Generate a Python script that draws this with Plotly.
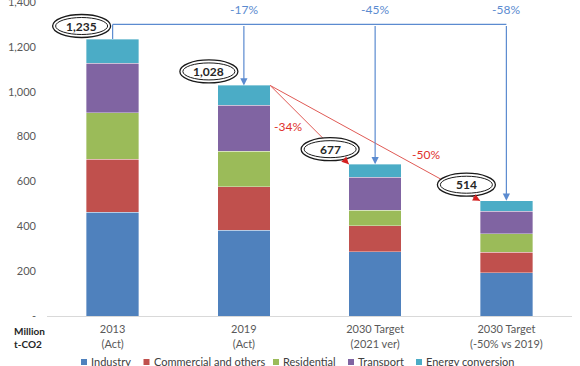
import plotly.graph_objects as go

# ---------------- data ----------------
categories = ["2013<br>(Act)", "2019<br>(Act)", "2030 Target<br>(2021 ver)", "2030 Target<br>(-50% vs 2019)"]
industry = [463, 383, 286, 192]
commercial = [236, 193, 116, 93]
residential = [208, 159, 69, 82]
transport = [221, 204, 147, 101]
energy_conv = [107, 89, 59, 46]
series_names = ["Industry", "Commercial and others", "Residential", "Transport", "Energy conversion"]
y_tick_vals = [0, 200, 400, 600, 800, 1000, 1200, 1400]
y_tick_text = ["-", "200", "400", "600", "800", "1,000", "1,200", "1,400"]

# ---------------- style ----------------
series = [industry, commercial, residential, transport, energy_conv]
colors = ["#4F81BD", "#C0504D", "#9BBB59", "#8064A2", "#4BACC6"]
FONT = "Lato, Open Sans, sans-serif"
W, H = 580, 366
ML, MR, MT, MB = 47, 8, 2, 50
PW, PH = W - ML - MR, H - MT - MB
BAR_W = 0.4
Y_MAX = 1400
BLUE = "#5B8BD0"
RED_TXT = "#E0312B"
RED_LINE = "#E05A55"
BRACKET_Y = 1300
PCT_Y = 1365
# pixel offsets of the total bubbles relative to the bar top centre
bubble_offsets = [(-31, 13), (-35, 14), (-45, 15), (-40, 16)]
# manual legend: icon left edges (px) and vertical centre (px)
legend_icon_px = [81, 143.5, 273, 348, 416]
LEGEND_Y_PX = 361
ICON = 6

px_per_x = PW / 4.0
px_per_y = PH / Y_MAX


def paper_x(px):
    return (px - ML) / PW


def paper_y(py):
    return (H - MB - py) / PH


x = list(range(len(categories)))
totals = [sum(v[i] for v in series) for i in x]

fig = go.Figure()
for name, vals, col in zip(series_names, series, colors):
    fig.add_trace(go.Bar(x=x, y=vals, name=name, width=BAR_W, showlegend=False,
                         marker=dict(color=col, line=dict(color="rgba(255,255,255,0.6)", width=0.6))))

shapes = []
annotations = []

# blue bracket: from the first bar's top to every other bar
shapes.append(dict(type="line", xref="x", yref="y", x0=x[0], x1=x[0], y0=totals[0], y1=BRACKET_Y,
                   line=dict(color=BLUE, width=1.2), layer="above"))
shapes.append(dict(type="line", xref="x", yref="y", x0=x[0], x1=x[-1], y0=BRACKET_Y, y1=BRACKET_Y,
                   line=dict(color=BLUE, width=1.2), layer="above"))
for i in x[1:]:
    annotations.append(dict(x=i, y=totals[i], ax=i, ay=BRACKET_Y, axref="x", ayref="y", xref="x", yref="y",
                            text="", showarrow=True, arrowhead=2, arrowsize=1.2, arrowwidth=1.2,
                            arrowcolor=BLUE, standoff=0))
    pct = round((totals[i] / totals[0] - 1) * 100)
    annotations.append(dict(x=i, y=PCT_Y, xref="x", yref="y", text=f"{pct}%", showarrow=False,
                            font=dict(family=FONT, size=12, color=BLUE)))

# red lines from the 2019 bar to the two targets
red_label_pos = {2: (0.23, 0, -23), 3: (0.74, 0, 16)}
for i in [2, 3]:
    xs, ys = x[1] + BAR_W / 2, totals[1]
    xe, ye = x[i] - BAR_W / 2, totals[i]
    shapes.append(dict(type="line", xref="x", yref="y", x0=xs, y0=ys, x1=xe, y1=ye,
                       line=dict(color=RED_LINE, width=1), layer="above"))
    dxp = (xe - xs) * px_per_x
    dyp = (ys - ye) * px_per_y
    n = (dxp ** 2 + dyp ** 2) ** 0.5
    annotations.append(dict(x=xe, y=ye, xref="x", yref="y", ax=-dxp / n * 9, ay=-dyp / n * 9,
                            text="", showarrow=True, arrowhead=2, arrowsize=1.3, arrowwidth=1.1,
                            arrowcolor="#D42020", standoff=0))
    t, sx, sy = red_label_pos[i]
    pct = round((totals[i] / totals[1] - 1) * 100)
    annotations.append(dict(x=xs + t * (xe - xs), y=ys + t * (ye - ys), xref="x", yref="y",
                            text=f"{pct}%", showarrow=False, xshift=sx, yshift=sy,
                            font=dict(family=FONT, size=12, color=RED_TXT)))

# total bubbles (double ellipse)
for i in x:
    dx, dy = bubble_offsets[i]
    shapes.append(dict(type="circle", xref="x", yref="y", xsizemode="pixel", ysizemode="pixel",
                       xanchor=i, yanchor=totals[i], x0=dx - 29, x1=dx + 29, y0=dy - 11.5, y1=dy + 11.5,
                       fillcolor="white", line=dict(color="#1a1a1a", width=1.3), layer="above"))
    shapes.append(dict(type="circle", xref="x", yref="y", xsizemode="pixel", ysizemode="pixel",
                       xanchor=i, yanchor=totals[i], x0=dx - 26, x1=dx + 26, y0=dy - 8.5, y1=dy + 8.5,
                       fillcolor="rgba(0,0,0,0)", line=dict(color="#1a1a1a", width=1), layer="above"))
    annotations.append(dict(x=i, y=totals[i], xref="x", yref="y", xshift=dx, yshift=dy,
                            text=f"<b>{totals[i]:,}</b>", showarrow=False,
                            font=dict(family=FONT, size=12, color="#262626")))

# unit label
annotations.append(dict(xref="paper", yref="paper", x=paper_x(12), y=paper_y(337),
                        xanchor="left", yanchor="middle", align="left",
                        text="<b>Million<br>t-CO2</b>", showarrow=False,
                        font=dict(family=FONT, size=10, color="#262626")))

# legend (drawn manually to match the compact Excel legend)
for name, col, lx in zip(series_names, colors, legend_icon_px):
    shapes.append(dict(type="rect", xref="paper", yref="paper",
                       x0=paper_x(lx), x1=paper_x(lx + ICON),
                       y0=paper_y(LEGEND_Y_PX + ICON / 2 + 1), y1=paper_y(LEGEND_Y_PX - ICON / 2 + 1),
                       fillcolor=col, line=dict(width=0)))
    annotations.append(dict(xref="paper", yref="paper", x=paper_x(lx + ICON + 2), y=paper_y(LEGEND_Y_PX),
                            xanchor="left", yanchor="middle", text=name, showarrow=False,
                            font=dict(family=FONT, size=11, color="#404040")))

fig.update_layout(
    width=W, height=H,
    margin=dict(l=ML, r=MR, t=MT, b=MB, autoexpand=False),
    barmode="stack",
    plot_bgcolor="white", paper_bgcolor="white",
    font=dict(family=FONT, size=11, color="#595959"),
    xaxis=dict(range=[-0.5, 3.5], tickvals=x, ticktext=categories, showgrid=False, zeroline=False,
               showline=True, linecolor="#D9D9D9", linewidth=1, ticks="", ticklabelstandoff=3,
               tickfont=dict(family=FONT, size=11, color="#595959")),
    yaxis=dict(range=[0, Y_MAX], tickvals=y_tick_vals, ticktext=y_tick_text, showgrid=False,
               zeroline=False, showline=False, ticks="", ticklabelstandoff=10,
               ticklabeloverflow="allow",
               tickfont=dict(family=FONT, size=11, color="#595959")),
    shapes=shapes, annotations=annotations, showlegend=False,
)

fig.write_html("out.html", config={"displayModeBar": False},
               post_script="document.body.style.margin='0px';")
